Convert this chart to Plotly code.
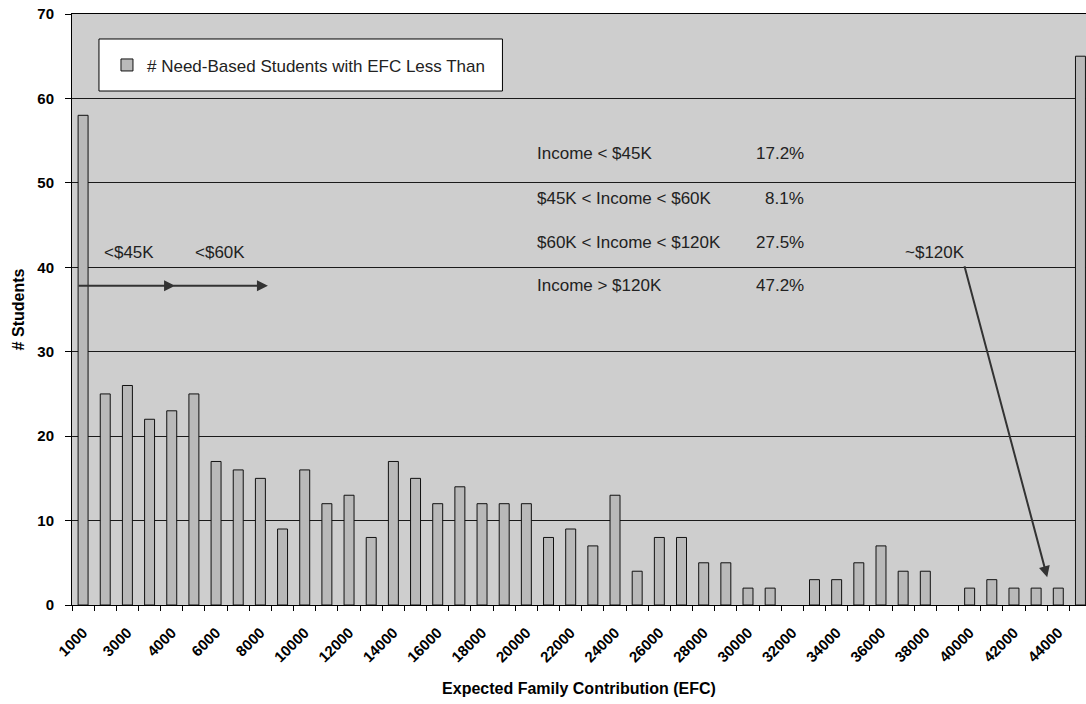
import plotly.graph_objects as go

# ---- data ----
students = [58, 25, 26, 22, 23, 25, 17, 16, 15, 9,
            16, 12, 13, 8, 17, 15, 12, 14, 12, 12,
            12, 8, 9, 7, 13, 4, 8, 8, 5, 5,
            2, 2, 0, 3, 3, 5, 7, 4, 4, 0,
            2, 3, 2, 2, 2, 65]
tick_labels = ["1000", "3000", "4000", "6000", "8000", "10000", "12000", "14000",
               "16000", "18000", "20000", "22000", "24000", "26000", "28000", "30000",
               "32000", "34000", "36000", "38000", "40000", "42000", "44000"]
income_groups = ["Income < $45K", "$45K < Income < $60K",
                 "$60K < Income < $120K", "Income > $120K"]
income_shares = ["17.2%", "8.1%", "27.5%", "47.2%"]
series_name = "# Need-Based Students with EFC Less Than"

positions = list(range(len(students)))
tick_positions = positions[0:len(tick_labels) * 2:2]
outline_widths = [1 if v > 0 else 0 for v in students]

FONT = "Liberation Sans, Arial, sans-serif"
TXT = dict(family=FONT, size=17, color="#222")

fig = go.Figure()
fig.add_trace(go.Bar(
    x=positions, y=students, name=series_name,
    marker=dict(color="#b9b9b9", line=dict(color="#111111", width=outline_widths)),
    width=0.45, showlegend=True,
))

annotations = []
# income table
row_y = [53.5, 48.2, 42.9, 37.9]
for txt, pct, yy in zip(income_groups, income_shares, row_y):
    annotations.append(dict(x=20.39, y=yy, xref="x", yref="y", text=txt, showarrow=False,
                            xanchor="left", yanchor="middle", font=TXT))
    annotations.append(dict(x=32.62, y=yy, xref="x", yref="y", text=pct, showarrow=False,
                            xanchor="right", yanchor="middle", font=TXT))
# threshold labels
for txt, xx in [("<$45K", 0.85), ("<$60K", 4.96), ("~$120K", 37.0)]:
    annotations.append(dict(x=xx, y=41.8, xref="x", yref="y", text=txt, showarrow=False,
                            xanchor="left", yanchor="middle", font=TXT))
# arrows
for (tx, ty, hx, hy) in [(-0.27, 37.8, 4.15, 37.8), (4.0, 37.8, 8.34, 37.8),
                         (39.75, 40.3, 43.5, 3.3)]:
    annotations.append(dict(x=hx, y=hy, ax=tx, ay=ty, xref="x", yref="y",
                            axref="x", ayref="y", text="", showarrow=True,
                            arrowhead=2, arrowsize=1.1, arrowwidth=2,
                            arrowcolor="#333333"))

fig.update_layout(
    width=1086, height=704,
    margin=dict(l=72, r=0, t=14, b=99),
    paper_bgcolor="white",
    plot_bgcolor="#cecece",
    font=dict(family=FONT, size=12, color="black"),
    showlegend=True,
    legend=dict(x=0.0345, y=0.913, xanchor="left", yanchor="middle",
                bgcolor="rgba(0,0,0,0)", borderwidth=0,
                font=dict(family=FONT, size=17, color="#222")),
    shapes=[dict(type="rect", xref="paper", yref="paper",
                 x0=0.0266, x1=0.4245, y0=0.8697, y1=0.9577,
                 fillcolor="white", line=dict(color="black", width=1),
                 layer="above")],
    annotations=annotations,
    xaxis=dict(
        range=[-0.5, 45.25],
        tickmode="array", tickvals=tick_positions, ticktext=tick_labels,
        tickangle=-45, ticks="", showgrid=False, zeroline=False,
        showline=True, linecolor="black", linewidth=1, mirror=True,
        ticklabelstandoff=12,
        tickfont=dict(family=FONT, size=15, color="black", weight="bold"),
        minor=dict(tickmode="linear", tick0=-0.5, dtick=1, ticks="outside",
                   ticklen=5, tickcolor="black", showgrid=False),
        title=dict(text="<b>Expected Family Contribution (EFC)</b>",
                   font=dict(family=FONT, size=16, color="black"), standoff=18),
    ),
    yaxis=dict(
        range=[0, 70], dtick=10, ticks="outside", ticklen=6, tickcolor="black",
        showgrid=True, gridcolor="#1a1a1a", gridwidth=1, zeroline=False,
        showline=True, linecolor="black", linewidth=1,
        ticklabelstandoff=8,
        tickfont=dict(family=FONT, size=15, color="black", weight="bold"),
        title=dict(text="<b># Students</b>",
                   font=dict(family=FONT, size=16, color="black"), standoff=8),
    ),
)

fig.write_html("out.html", config={"displayModeBar": False},
               post_script="document.body.style.margin='0';")
